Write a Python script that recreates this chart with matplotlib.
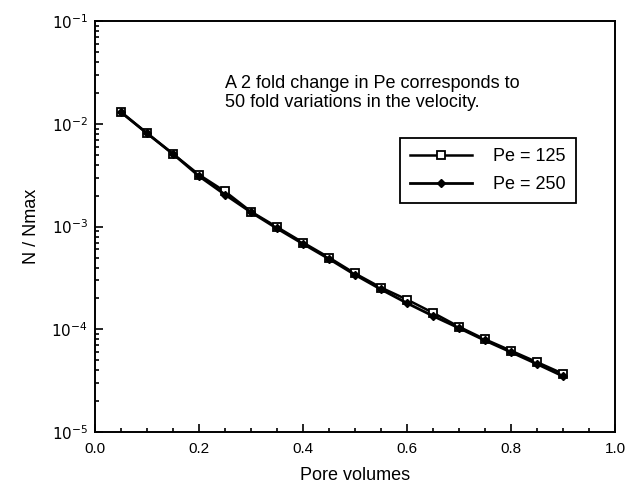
import matplotlib.pyplot as plt
from matplotlib.ticker import FixedLocator, LogLocator, NullFormatter

plt.rcParams['font.family'] = ['Liberation Sans', 'DejaVu Sans']

pore_volumes = [0.05, 0.10, 0.15, 0.20, 0.25, 0.30, 0.35, 0.40, 0.45,
                0.50, 0.55, 0.60, 0.65, 0.70, 0.75, 0.80, 0.85, 0.90]
pe125 = [1.30e-2, 8.1e-3, 5.1e-3, 3.2e-3, 2.2e-3, 1.40e-3, 9.9e-4, 7.0e-4, 5.0e-4,
         3.5e-4, 2.55e-4, 1.95e-4, 1.45e-4, 1.06e-4, 8.0e-5, 6.2e-5, 4.8e-5, 3.7e-5]
pe250 = [1.30e-2, 8.1e-3, 5.1e-3, 3.1e-3, 2.05e-3, 1.38e-3, 9.6e-4, 6.8e-4, 4.85e-4,
         3.4e-4, 2.45e-4, 1.80e-4, 1.35e-4, 1.03e-4, 7.8e-5, 6.0e-5, 4.6e-5, 3.5e-5]
labels = ['Pe = 125', 'Pe = 250']
ytick_vals = [1e-5, 1e-4, 1e-3, 1e-2, 1e-1]
ytick_labels = ['$10^{-5}$', '$10^{-4}$', '$10^{-3}$', '$10^{-2}$', '$10^{-1}$']


def making_graph():
    fig = plt.figure(figsize=(6.29, 4.9), dpi=100)
    ax = fig.add_axes([0.151, 0.118, 0.827, 0.839])
    ax.plot(pore_volumes, pe125, color='black', lw=1.8, marker='s', ms=5.5,
            mfc='white', mec='black', mew=1.3, label=labels[0])
    ax.plot(pore_volumes, pe250, color='black', lw=2.0, marker='D', ms=4.5,
            mfc='black', mec='black', label=labels[1])
    ax.set_yscale('log')
    ax.set_xlim(0, 1.0)
    ax.set_ylim(1e-5, 1e-1)
    ax.set_xticks([0.0, 0.2, 0.4, 0.6, 0.8, 1.0])
    ax.set_xticklabels(['0.0', '0.2', '0.4', '0.6', '0.8', '1.0'])
    ax.xaxis.set_minor_locator(FixedLocator([0.05 * i for i in range(21)]))
    ax.set_yticks(ytick_vals)
    ax.set_yticklabels(ytick_labels)
    ax.yaxis.set_minor_locator(LogLocator(base=10, subs=range(2, 10)))
    ax.yaxis.set_minor_formatter(NullFormatter())
    ax.tick_params(which='both', direction='in', top=False, right=False,
                   labelsize=11, width=1.2)
    ax.tick_params(axis='x', pad=7)
    ax.tick_params(axis='y', pad=5)
    ax.tick_params(which='major', length=6)
    ax.tick_params(which='minor', length=3)
    for s in ax.spines.values():
        s.set_linewidth(1.4)
    ax.set_xlabel('Pore volumes', fontsize=13, labelpad=8)
    ax.set_ylabel('N / Nmax', fontsize=13, labelpad=8)
    ax.text(0.25, 0.825, 'A 2 fold change in Pe corresponds to\n50 fold variations in the velocity.',
            transform=ax.transAxes, fontsize=13, va='center', ha='left',
            linespacing=1.1)
    leg = ax.legend(loc='upper left', bbox_to_anchor=(0.587, 0.715), fontsize=13,
                    fancybox=False, edgecolor='black', framealpha=1,
                    handlelength=3.4, borderpad=0.55, labelspacing=0.6,
                    handletextpad=1.2, borderaxespad=0)
    leg.get_frame().set_linewidth(1.3)
    fig.savefig('out.png', dpi=100)


def main():
    making_graph()


if __name__ == "__main__":
    main()
